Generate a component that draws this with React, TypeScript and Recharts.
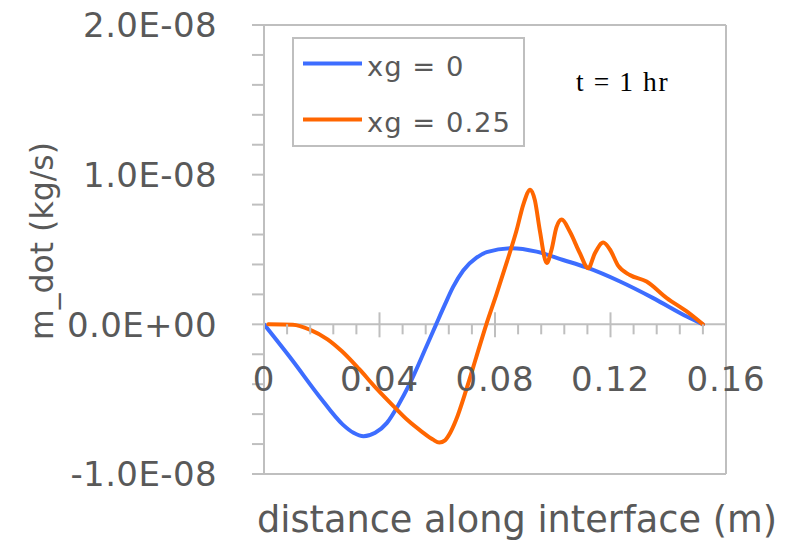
import React from 'react';
import { LineChart, Line, XAxis, YAxis, ReferenceLine, Legend } from 'recharts';

// ---- data (m_dot in kg/s, distance in m) ----
const SERIES_NAMES = ['xg = 0', 'xg = 0.25'];
const SERIES_COLORS = ['#3D6DFF', '#FF6600'];

const xg0Distance = [0, 0.0098, 0.0191, 0.0273, 0.031, 0.0345, 0.0385, 0.0425, 0.0465, 0.0504, 0.0562, 0.0595, 0.0626, 0.0655, 0.069, 0.0736, 0.0771, 0.0858, 0.0944, 0.1036, 0.1117, 0.1233, 0.1348, 0.1464, 0.152];
const xg0Mdot = [0, -0.24e-8, -0.48e-8, -0.67e-8, -0.725e-8, -0.748e-8, -0.725e-8, -0.66e-8, -0.54e-8, -0.4e-8, -0.15e-8, -0.005e-8, 0.13e-8, 0.25e-8, 0.36e-8, 0.445e-8, 0.482e-8, 0.509e-8, 0.486e-8, 0.43e-8, 0.38e-8, 0.286e-8, 0.175e-8, 0.052e-8, 0];

const xg25Distance = [0.0015, 0.01, 0.016, 0.022, 0.027, 0.033, 0.039, 0.045, 0.05, 0.0545, 0.0585, 0.0607, 0.0627, 0.0645, 0.0665, 0.07, 0.0735, 0.077, 0.0805, 0.084, 0.0875, 0.0898, 0.0922, 0.0938, 0.0955, 0.0979, 0.0996, 0.1013, 0.1031, 0.1059, 0.1094, 0.1123, 0.1146, 0.1175, 0.1198, 0.1227, 0.1267, 0.1325, 0.1395, 0.1464, 0.152];
const xg25Mdot = [0, -0.003e-8, -0.037e-8, -0.1e-8, -0.18e-8, -0.3e-8, -0.43e-8, -0.55e-8, -0.645e-8, -0.715e-8, -0.77e-8, -0.79e-8, -0.775e-8, -0.725e-8, -0.64e-8, -0.44e-8, -0.22e-8, 0.0, 0.2e-8, 0.41e-8, 0.63e-8, 0.8e-8, 0.9e-8, 0.83e-8, 0.63e-8, 0.41e-8, 0.5e-8, 0.65e-8, 0.7e-8, 0.62e-8, 0.475e-8, 0.375e-8, 0.475e-8, 0.546e-8, 0.5e-8, 0.39e-8, 0.33e-8, 0.286e-8, 0.175e-8, 0.086e-8, 0];

// ---- axes ----
const X_DOMAIN = [0, 0.16];
const Y_DOMAIN = [-1.0e-8, 2.0e-8];
const X_TICKS = [0, 0.008, 0.016, 0.024, 0.032, 0.04, 0.048, 0.056, 0.064, 0.072, 0.08, 0.088, 0.096, 0.104, 0.112, 0.12, 0.128, 0.136, 0.144, 0.152, 0.16];
const X_MAJOR = [0, 0.04, 0.08, 0.12, 0.16];
const X_MAJOR_LABELS = ['0', '0.04', '0.08', '0.12', '0.16'];
const Y_TICKS = [-1.0e-8, -0.8e-8, -0.6e-8, -0.4e-8, -0.2e-8, 0, 0.2e-8, 0.4e-8, 0.6e-8, 0.8e-8, 1.0e-8, 1.2e-8, 1.4e-8, 1.6e-8, 1.8e-8, 2.0e-8];
const Y_MAJOR = [-1.0e-8, 0, 1.0e-8, 2.0e-8];
const Y_MAJOR_LABELS = ['-1.0E-08', '0.0E+00', '1.0E-08', '2.0E-08'];

const X_TITLE = 'distance along interface (m)';
const Y_TITLE = 'm_dot (kg/s)';
const NOTE = 't = 1 hr';

// ---- layout ----
const W = 797;
const H = 546;
const X_AXIS_H = 30;
const MARGIN = { top: 25, right: 71, bottom: 72 - X_AXIS_H, left: 0 };
const Y_AXIS_W = 264;
const PLOT_TOP = MARGIN.top;
const PLOT_H = H - MARGIN.top - MARGIN.bottom - X_AXIS_H;
const ZERO_Y = PLOT_TOP + (PLOT_H * (Y_DOMAIN[1] - 0)) / (Y_DOMAIN[1] - Y_DOMAIN[0]);

const AXIS_GRAY = '#BFBFBF';
const TEXT_GRAY = '#595959';
const FONT = '"DejaVu Sans", sans-serif';

const xg0Data = xg0Distance.map((x, i) => ({ x, y: xg0Mdot[i] }));
const xg25Data = xg25Distance.map((x, i) => ({ x, y: xg25Mdot[i] }));

const findIdx = (arr: number[], v: number, tol: number) => arr.findIndex((a) => Math.abs(a - v) < tol);

const XTick = (props: any) => {
  const { x, payload } = props;
  const idx = findIdx(X_MAJOR, payload.value, 1e-6);
  if (idx >= 0) {
    return (
      <g>
        <line x1={x} x2={x} y1={ZERO_Y - 12} y2={ZERO_Y + 13} stroke={AXIS_GRAY} strokeWidth={2} />
        <text x={x} y={ZERO_Y + 67} textAnchor="middle" fontFamily={FONT} fontSize={34} fill={TEXT_GRAY} letterSpacing={0.8}>
          {X_MAJOR_LABELS[idx]}
        </text>
      </g>
    );
  }
  return <line x1={x} x2={x} y1={ZERO_Y} y2={ZERO_Y + 10} stroke={AXIS_GRAY} strokeWidth={2} />;
};

const YTick = (props: any) => {
  const { x, y, payload } = props;
  const idx = findIdx(Y_MAJOR, payload.value, 1e-12);
  if (idx < 0) return <g />;
  return (
    <text x={x} y={y} dy="0.36em" textAnchor="end" fontFamily={FONT} fontSize={34} fill={TEXT_GRAY} letterSpacing={0.4}>
      {Y_MAJOR_LABELS[idx]}
    </text>
  );
};

const renderLegend = (props: any) => {
  const items = props.payload || [];
  return (
    <div style={{ width: 233, height: 110, boxSizing: 'border-box', border: `2px solid ${AXIS_GRAY}`, background: '#fff' }}>
      <svg width={229} height={106} style={{ display: 'block' }}>
        {items.map((it: any, i: number) => (
          <g key={i}>
            <line x1={9} x2={68} y1={24.5 + i * 56} y2={24.5 + i * 56} stroke={it.color} strokeWidth={3.8} />
            <text x={73} y={36.5 + i * 56} fontFamily={FONT} fontSize={27.4} fill={TEXT_GRAY} letterSpacing={1}>
              {it.value}
            </text>
          </g>
        ))}
      </svg>
    </div>
  );
};

export default function App() {
  return (
    <div style={{ position: 'absolute', left: 0, top: 0, width: W, height: H, background: '#fff' }}>
      <LineChart width={W} height={H} margin={MARGIN}>
        <ReferenceLine y={Y_DOMAIN[1]} stroke={AXIS_GRAY} strokeWidth={2} ifOverflow="visible" />
        <ReferenceLine y={Y_DOMAIN[0]} stroke={AXIS_GRAY} strokeWidth={2} ifOverflow="visible" />
        <ReferenceLine x={X_DOMAIN[1]} stroke={AXIS_GRAY} strokeWidth={2} ifOverflow="visible" />
        <ReferenceLine y={0} stroke={AXIS_GRAY} strokeWidth={2} ifOverflow="visible" />
        <XAxis
          type="number"
          dataKey="x"
          domain={X_DOMAIN}
          allowDataOverflow
          ticks={X_TICKS}
          interval={0}
          height={X_AXIS_H}
          axisLine={false}
          tickLine={false}
          tickSize={0}
          tickMargin={0}
          tick={(p: any) => <XTick {...p} />}
        />
        <YAxis
          type="number"
          dataKey="y"
          domain={Y_DOMAIN}
          allowDataOverflow
          ticks={Y_TICKS}
          interval={0}
          width={Y_AXIS_W}
          axisLine={{ stroke: AXIS_GRAY, strokeWidth: 2 }}
          tickLine={{ stroke: AXIS_GRAY, strokeWidth: 2 }}
          tickSize={12}
          tickMargin={35}
          tick={(p: any) => <YTick {...p} />}
        />
        <Legend
          layout="vertical"
          align="center"
          verticalAlign="middle"
          wrapperStyle={{ left: 292, top: 37, width: 233, height: 110 }}
          content={renderLegend}
        />
        <Line
          data={xg0Data}
          dataKey="y"
          name={SERIES_NAMES[0]}
          type="monotone"
          stroke={SERIES_COLORS[0]}
          strokeWidth={4}
          strokeLinecap="round"
          strokeLinejoin="round"
          dot={false}
          activeDot={false}
          isAnimationActive={false}
        />
        <Line
          data={xg25Data}
          dataKey="y"
          name={SERIES_NAMES[1]}
          type="monotone"
          stroke={SERIES_COLORS[1]}
          strokeWidth={4}
          strokeLinecap="round"
          strokeLinejoin="round"
          dot={false}
          activeDot={false}
          isAnimationActive={false}
        />
      </LineChart>
      <svg width={W} height={H} style={{ position: 'absolute', left: 0, top: 0, pointerEvents: 'none' }}>
        <text x={517} y={531.5} textAnchor="middle" fontFamily={FONT} fontSize={36.7} fill={TEXT_GRAY}>
          {X_TITLE}
        </text>
        <text
          x={53}
          y={241}
          transform="rotate(-90 53 241)"
          textAnchor="middle"
          fontFamily={FONT}
          fontSize={31.5}
          fill={TEXT_GRAY}
        >
          {Y_TITLE}
        </text>
        <text x={576} y={91} fontFamily='"Liberation Serif", serif' fontSize={27.5} fill="#000" letterSpacing={1.6}>
          {NOTE}
        </text>
      </svg>
    </div>
  );
}
